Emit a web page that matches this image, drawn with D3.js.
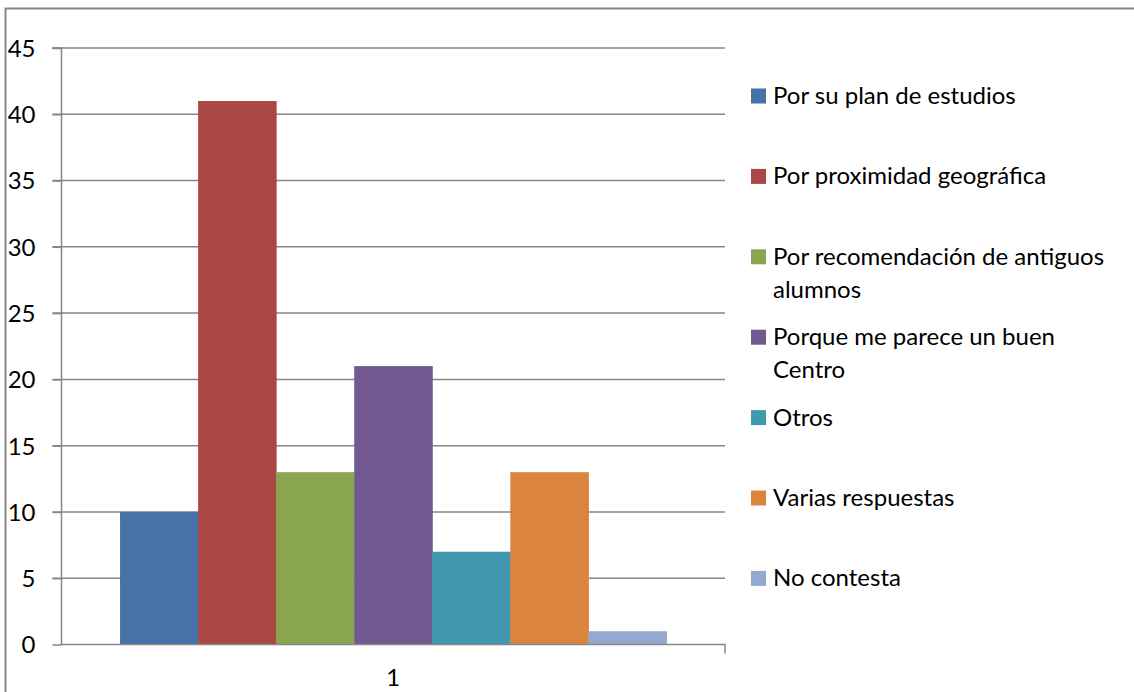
<!DOCTYPE html>
<html><head><meta charset="utf-8">
<script src="https://cdn.jsdelivr.net/npm/d3@7"></script>
<style>html,body{margin:0;padding:0;background:#fff;}svg{display:block;font-family:Lato,"Noto Sans",sans-serif;}</style>
</head><body>
<svg id="c" width="1134" height="692"></svg>
<script>
const categories = ["1"];
const seriesNames = ["Por su plan de estudios","Por proximidad geográfica","Por recomendación de antiguos alumnos","Porque me parece un buen Centro","Otros","Varias respuestas","No contesta"];
const seriesValues = [10, 41, 13, 21, 7, 13, 1];
const seriesColors = ["#4572A7","#AA4643","#89A54E","#71588F","#4198AF","#DB843D","#93A9CF"];
const yTicks = [0,5,10,15,20,25,30,35,40,45];

const svg = d3.select("#c");
const grey = "#868686";
const fs = 24;

// outer border
svg.append("rect").attr("x",5.5).attr("y",8.5).attr("width",1140).attr("height",700)
  .attr("fill","none").attr("stroke",grey).attr("stroke-width",2);

const L = 61.5, R = 725, T = 48, B = 644.5;
const y = d3.scaleLinear().domain([0,45]).range([B,T]);
const x = d3.scaleBand().domain(categories).range([L,R]).paddingInner(0).paddingOuter(0);
// gap width 150%: 7 bars + 1.5 bars of gap per category
const bw = x.bandwidth()/(seriesValues.length+1.5);
const xs = d3.scaleBand().domain(d3.range(seriesValues.length))
  .range([x("1")+0.75*bw, x("1")+x.bandwidth()-0.75*bw]).padding(0);

// gridlines
svg.append("g").selectAll("line").data(yTicks.filter(d=>d>0)).join("line")
  .attr("x1",L-9).attr("x2",R).attr("y1",d=>y(d)).attr("y2",d=>y(d))
  .attr("stroke",grey).attr("stroke-width",1.5);

// bars
svg.append("g").selectAll("rect").data(seriesValues).join("rect")
  .attr("x",(d,i)=>xs(i)).attr("width",xs.bandwidth()+0.5)
  .attr("y",d=>y(d)).attr("height",d=>B-y(d))
  .attr("fill",(d,i)=>seriesColors[i]);

// y axis
const ya = svg.append("g").attr("transform",`translate(${L},0)`)
  .call(d3.axisLeft(y).tickValues(yTicks).tickSize(9).tickPadding(17));
ya.select(".domain").attr("stroke",grey).attr("stroke-width",1.5).attr("d",`M-9,${T}H0V${B+0.5}`);
ya.selectAll(".tick line").attr("stroke",grey).attr("stroke-width",1.5);
ya.selectAll(".tick text").attr("font-size",fs).attr("fill","#000").attr("font-family","Lato").attr("dy","0.35em");

// x axis
const xa = svg.append("g").attr("transform",`translate(0,${B})`)
  .call(d3.axisBottom(x).tickSize(0).tickPadding(23));
xa.select(".domain").attr("stroke",grey).attr("stroke-width",1.5).attr("d",`M${L},0H${R}V9`);
xa.selectAll(".tick text").attr("font-size",fs).attr("fill","#000").attr("font-family","Lato").attr("dy","0.75em");

// legend
const lg = svg.append("g");
const maxW = 352;
seriesNames.forEach((name,i)=>{
  const cy = 96 + i*80.4;
  lg.append("rect").attr("x",751).attr("y",cy-7.5).attr("width",15).attr("height",15).attr("fill",seriesColors[i]);
  const t = lg.append("text").attr("x",773).attr("y",cy+8).attr("font-size",fs).attr("fill","#000");
  const words = name.split(" ");
  let line = [], ts = t.append("tspan").attr("x",773);
  words.forEach(w=>{
    line.push(w); ts.text(line.join(" "));
    if (ts.node().getComputedTextLength() > maxW && line.length>1){
      line.pop(); ts.text(line.join(" "));
      line=[w];
      ts = t.append("tspan").attr("x",773).attr("dy",33).text(w);
    }
  });
});
</script>
</body></html>
